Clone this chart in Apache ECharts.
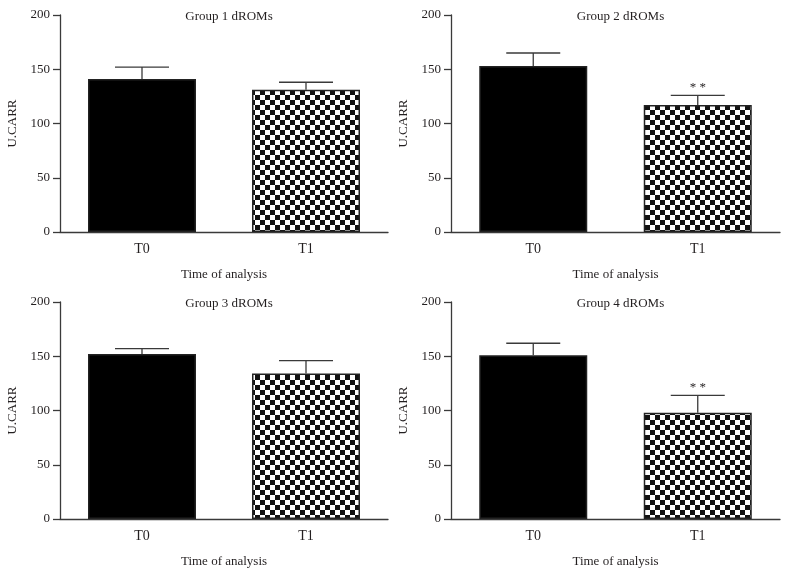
<!DOCTYPE html>
<html>
<head>
<meta charset="utf-8">
<script src="https://cdn.jsdelivr.net/npm/echarts@6/dist/echarts.min.js"></script>
<style>
html,body{margin:0;padding:0;background:#fff;}
#c{width:785px;height:572px;}
</style>
</head>
<body>
<div id="c"></div>
<script>
const categories = ['T0', 'T1'];
const titles = ['Group 1 dROMs', 'Group 2 dROMs', 'Group 3 dROMs', 'Group 4 dROMs'];
const yTicks = [0, 50, 100, 150, 200];
const g1Mean = [141, 131];
const g1Sd = [11, 7];
const g2Mean = [153, 117];
const g2Sd = [12, 9];
const g3Mean = [152, 134];
const g3Sd = [5, 12];
const g4Mean = [151, 98];
const g4Sd = [11, 16];
const g1Sig = ['', ''];
const g2Sig = ['', '* *'];
const g3Sig = ['', ''];
const g4Sig = ['', '* *'];

const means = [g1Mean, g2Mean, g3Mean, g4Mean];
const sds = [g1Sd, g2Sd, g3Sd, g4Sd];
const sigs = [g1Sig, g2Sig, g3Sig, g4Sig];

// checkerboard pattern
const pc = document.createElement('canvas');
const cell = 5;
pc.width = cell * 2; pc.height = cell * 2;
const ctx = pc.getContext('2d');
ctx.fillStyle = '#ffffff';
ctx.fillRect(0, 0, cell * 2, cell * 2);
ctx.fillStyle = '#111111';
ctx.fillRect(0, 0, cell, cell);
ctx.fillRect(cell, cell, cell, cell);
const checker = { image: pc, repeat: 'repeat' };

const font = "'Liberation Serif', 'DejaVu Serif', serif";
const textColor = '#231f20';
const axisColor = '#3a3a3a';

const gridPos = [
  { left: 60, top: 15, width: 328, height: 217 },
  { left: 451, top: 15, width: 329, height: 217 },
  { left: 60, top: 302, width: 328, height: 217 },
  { left: 451, top: 302, width: 329, height: 217 }
];

const option = {
  backgroundColor: '#fff',
  animation: false,
  title: [], grid: [], xAxis: [], yAxis: [], series: []
};

gridPos.forEach((g, i) => {
  option.grid.push(g);
  option.title.push({
    text: titles[i],
    left: g.left + g.width / 2,
    textAlign: 'center',
    top: g.top - 10,
    textStyle: { fontFamily: font, fontSize: 13, fontWeight: 'normal', color: textColor }
  });
  option.xAxis.push({
    type: 'category',
    gridIndex: i,
    data: categories,
    name: 'Time of analysis',
    nameLocation: 'middle',
    nameGap: 36,
    nameTextStyle: { fontFamily: font, fontSize: 13, color: textColor },
    axisLine: { lineStyle: { color: axisColor, width: 1.3 } },
    axisTick: { alignWithLabel: true, length: 7, lineStyle: { color: axisColor, width: 1.3 } },
    axisLabel: { fontFamily: font, fontSize: 14, color: textColor, margin: 10 },
    splitLine: { show: false }
  });
  option.yAxis.push({
    type: 'value',
    gridIndex: i,
    min: yTicks[0],
    max: yTicks[yTicks.length - 1],
    interval: yTicks[1] - yTicks[0],
    name: 'U.CARR',
    nameLocation: 'middle',
    nameGap: 41,
    nameTextStyle: { fontFamily: font, fontSize: 13, color: textColor },
    axisLine: { show: true, lineStyle: { color: axisColor, width: 1.3 } },
    axisTick: { show: true, length: 7, lineStyle: { color: axisColor, width: 1.3 } },
    axisLabel: { fontFamily: font, fontSize: 13, color: textColor, margin: 10 },
    splitLine: { show: false }
  });
  option.series.push({
    type: 'bar',
    xAxisIndex: i,
    yAxisIndex: i,
    barWidth: 108,
    data: means[i].map((v, k) => ({
      value: v,
      itemStyle: {
        color: k === 0 ? '#000' : checker,
        borderColor: '#222',
        borderWidth: 1.5
      }
    })),
    z: 2
  });
  const sig = sigs[i];
  option.series.push({
    type: 'custom',
    xAxisIndex: i,
    yAxisIndex: i,
    z: 3,
    data: means[i].map((v, k) => [k, v, sds[i][k]]),
    renderItem: function (params, api) {
      const x = api.value(0), m = api.value(1), s = api.value(2);
      const base = api.coord([x, m]);
      const top = api.coord([x, m + s]);
      const half = 27;
      const children = [
        { type: 'line', shape: { x1: base[0], y1: base[1], x2: top[0], y2: top[1] },
          style: { stroke: axisColor, lineWidth: 1.3 } },
        { type: 'line', shape: { x1: top[0] - half, y1: top[1], x2: top[0] + half, y2: top[1] },
          style: { stroke: axisColor, lineWidth: 1.3 } }
      ];
      const t = sig[params.dataIndex];
      if (t) {
        children.push({
          type: 'text',
          style: { text: t, x: top[0], y: top[1] - 1, align: 'center', verticalAlign: 'bottom',
            font: "13px 'Liberation Serif', serif", fill: textColor }
        });
      }
      return { type: 'group', children: children };
    }
  });
});

const chart = echarts.init(document.getElementById('c'), null, { renderer: 'canvas' });
chart.setOption(option);
</script>
</body>
</html>
